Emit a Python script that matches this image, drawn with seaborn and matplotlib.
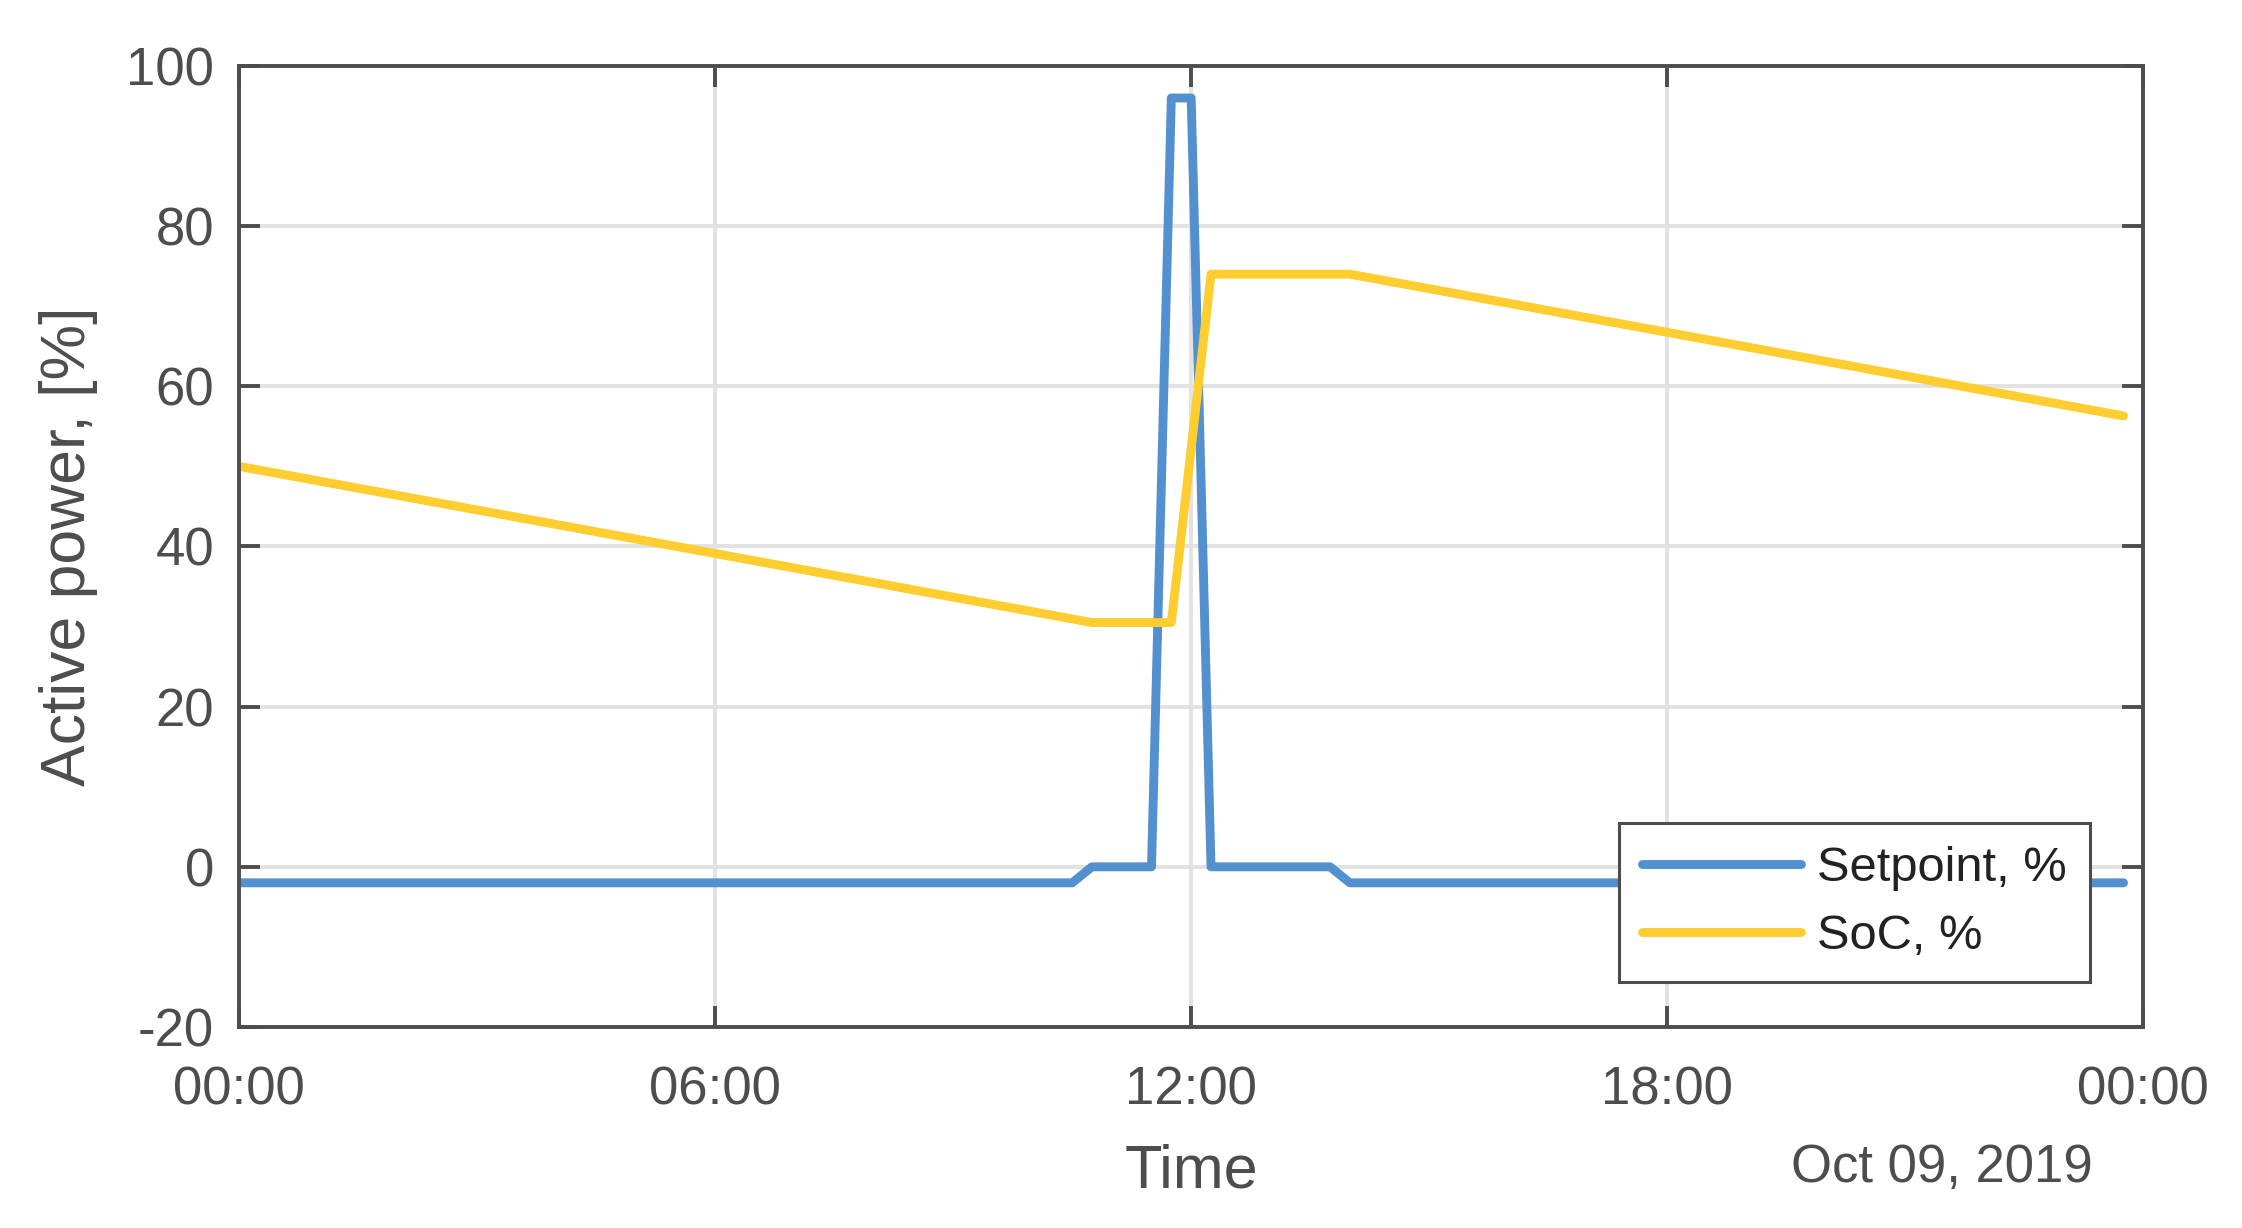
import numpy as np
import pandas as pd
import seaborn as sns
import matplotlib.pyplot as plt
import matplotlib.dates as mdates

# breakpoints (hours after midnight, Oct 09 2019)
sp_hours = [0, 10.5, 10.75, 11.5, 11.75, 12.0, 12.25, 13.75, 14.0, 23.75]
sp_vals = [-2, -2, 0, 0, 96, 96, 0, 0, -2, -2]

soc_hours = [0, 10.75, 11.75, 12.25, 14.0, 23.75]
soc_vals = [50, 30.5, 30.5, 74, 74, 56.3]

day = pd.Timestamp("2019-10-09")
sp_time = day + pd.to_timedelta(sp_hours, unit="h")
soc_time = day + pd.to_timedelta(soc_hours, unit="h")

y_ticks = [-20, 0, 20, 40, 60, 80, 100]

sns.set_style("white")
plt.rcParams["font.family"] = ["Liberation Sans", "DejaVu Sans"]
plt.rcParams["axes.unicode_minus"] = False

axis_col = "#4d4d4f"
blue = "#5290cf"
yellow = "#fecd2f"

fig = plt.figure(figsize=(11.21, 6.14), dpi=200)
ax = fig.add_axes([0.1066, 0.1637, 0.956 - 0.1066, 0.9463 - 0.1637])

sns.lineplot(x=sp_time, y=sp_vals, ax=ax, color=blue, linewidth=3.2, label="Setpoint, %")
sns.lineplot(x=soc_time, y=soc_vals, ax=ax, color=yellow, linewidth=3.2, label="SoC, %")

ax.set_xlim(day, day + pd.Timedelta(hours=24))
ax.set_ylim(-20, 100)
ax.set_yticks(y_ticks)
ax.xaxis.set_major_locator(mdates.HourLocator(byhour=[0, 6, 12, 18]))
ax.xaxis.set_major_formatter(mdates.DateFormatter("%H:%M"))

ax.grid(True, color="#e2e2e4", linewidth=1.4)
ax.set_axisbelow(True)
for s in ax.spines.values():
    s.set_color(axis_col)
    s.set_linewidth(1.4)
    s.set_visible(True)
ax.tick_params(direction="in", length=7.5, width=1.4, color=axis_col,
               labelcolor=axis_col, labelsize=19, top=True, right=True,
               bottom=True, left=True)
ax.tick_params(axis="y", pad=9)
ax.tick_params(axis="x", pad=14)

ax.set_xlabel("Time", fontsize=22, color=axis_col, labelpad=10)
ax.set_ylabel("Active power, [%]", fontsize=22.5, color=axis_col, labelpad=10)

fig.text(2093 / 2242, 1 - 1168 / 1228, "Oct 09, 2019", ha="right", va="center",
         fontsize=19, color=axis_col)

leg = ax.legend(loc="upper right", bbox_to_anchor=(2090 / 2242, 1 - 823 / 1228),
                bbox_transform=fig.transFigure, borderaxespad=0, fontsize=17.6,
                handlelength=3.25, handletextpad=0.32, borderpad=0.48,
                labelspacing=0.46, fancybox=False, framealpha=1)
leg.get_frame().set_edgecolor(axis_col)
leg.get_frame().set_linewidth(1.1)
for t in leg.get_texts():
    t.set_color("#222222")

fig.savefig("out.png", dpi=200)
